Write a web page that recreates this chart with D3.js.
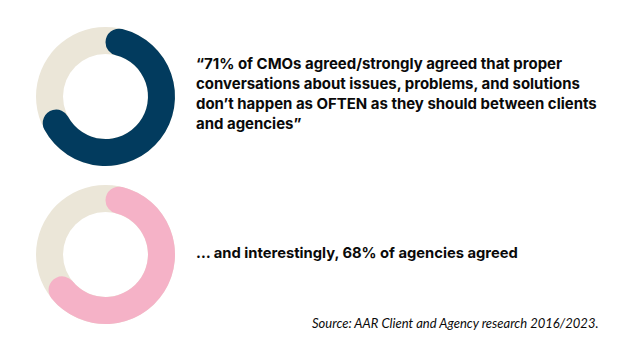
<!DOCTYPE html>
<html>
<head>
<meta charset="utf-8">
<script src="https://cdn.jsdelivr.net/npm/d3@7"></script>
<style>
  html, body { margin: 0; padding: 0; background: #ffffff; }
  svg { display: block; }
</style>
</head>
<body>
<svg id="chart" width="640" height="360"></svg>
<script>
// ---- data ----
const groups = ["CMOs", "Agencies"];
const agreePct = [71, 68];
const quoteLines = [
  "\u201C71% of CMOs agreed/strongly agreed that proper",
  "conversations about issues, problems, and solutions",
  "don\u2019t happen as OFTEN as they should between clients",
  "and agencies\u201D"
];
const agencyLine = ["\u2026 and interestingly, 68% of agencies agreed"];
const sourceText = "Source: AAR Client and Agency research 2016/2023.";

// ---- styles ----
const ringColors = ["#023b5e", "#f5b2c7"];
const trackColor = "#ebe6d8";
const svg = d3.select("#chart");

const cy = d3.scalePoint().domain(groups).range([96.5, 254.5]);
const angle = d3.scaleLinear().domain([0, 100]).range([0, 2 * Math.PI]);
const outerR = 69.5, innerR = 42.5;
const cx = 105.5;

const arc = d3.arc().innerRadius(innerR).outerRadius(outerR);

groups.forEach((g, i) => {
  const gg = svg.append("g").attr("transform", `translate(${cx},${cy(g)})`);
  gg.append("path")
    .attr("d", arc({ startAngle: 0, endAngle: 2 * Math.PI }))
    .attr("fill", trackColor);
  gg.append("path")
    .attr("d", d3.arc().innerRadius(innerR).outerRadius(outerR)
      .cornerRadius((outerR - innerR) / 2)({ startAngle: 0, endAngle: angle(agreePct[i]) }))
    .attr("fill", ringColors[i]);
});

function fitText(lines, x, y0, lh, targetWidth, lineIdx, fam, weight, style, size) {
  const t = svg.append("text")
    .attr("font-family", fam)
    .attr("font-weight", weight)
    .attr("font-style", style)
    .attr("font-size", size)
    .attr("fill", "#0a0a0a");
  const ts = t.selectAll("tspan").data(lines).join("tspan")
    .attr("x", x).attr("y", (d, k) => y0 + k * lh).text(d => d);
  const w = ts.nodes()[lineIdx].getComputedTextLength();
  t.attr("font-size", size * targetWidth / w);
  return t;
}

const boldFam = "Inter, 'Noto Sans', sans-serif";
fitText(quoteLines, 196, 69, 20, 401, 2, boldFam, 700, "normal", 15);
fitText(agencyLine, 196, 258, 20, 322, 0, boldFam, 700, "normal", 15);
fitText([sourceText], 312, 328, 20, 287, 0, "Lato, 'Open Sans', sans-serif", 400, "italic", 13);
</script>
</body>
</html>
